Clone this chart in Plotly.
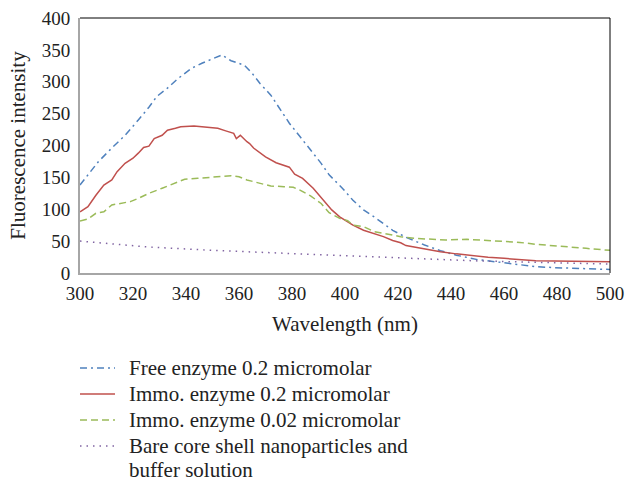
import plotly.graph_objects as go

# ---- data ----
free_wl = [300, 303, 307, 312, 317, 322, 326, 329, 333, 337, 342, 346, 351, 353.5, 357, 362, 365, 368, 372,
           375.5, 379, 383, 387, 391, 394, 399, 403, 407, 411, 414.5, 418, 423, 430, 436, 442, 450, 454,
           460, 466, 472, 479, 485, 491, 500]
free_val = [138, 154, 175, 196, 216, 240, 260, 277, 290, 305, 321, 329, 337, 342, 333, 326, 313, 297, 279,
            258, 235, 214, 193, 172, 154, 133, 114, 99, 88, 78, 67, 56, 44, 35, 28, 21, 19,
            16, 12.5, 10, 8.4, 7.3, 6.3, 5.5]

immo02_wl = [300, 303, 306, 309, 312, 314, 317, 320, 322, 324, 326, 328, 331, 333, 336, 338, 343, 347, 351,
             352, 355, 358, 359, 360.5, 363, 364, 365.5, 368, 370, 374, 379, 381, 384, 388, 392, 395, 398,
             401, 403, 407, 411, 414.5, 418, 421, 423, 430, 436, 442, 448, 454, 460, 466, 472, 479, 485,
             491, 500]
immo02_val = [96, 104, 122, 138, 146, 159, 172, 180, 188, 197, 199, 211, 216, 224, 227, 229.5, 230.5, 228.5,
              227, 227, 223, 219, 211, 216, 206, 203, 196, 189, 182, 173, 166, 155, 148.5, 133, 114.5, 99,
              88, 80, 75, 67, 62, 57, 51, 47.5, 43, 37.6, 33.5, 30, 27, 24.6, 23, 21.5, 19.3, 18.8, 18.3,
              17.8, 17.8]

immo002_wl = [300, 303, 306, 309, 312, 316, 319, 322, 326, 331, 336, 339.5, 344.5, 350, 352, 357, 360, 363,
              368, 372, 377, 380.5, 383, 387, 391, 394, 398, 401, 403, 407, 411, 414.5, 418, 421, 426, 432,
              438, 446, 451, 457, 466, 472, 479, 485, 491, 500]
immo002_val = [81.6, 84.7, 93.6, 96, 106.7, 110, 112, 117, 125, 133, 140.6, 147, 148.5, 150, 151, 152.6, 151,
               146, 140.6, 136.5, 135.4, 134.4, 130, 121, 109, 94.6, 85.7, 82, 75, 72.7, 65, 62, 59.6, 57,
               54.4, 52.8, 51.8, 52.8, 51.8, 50.2, 48, 45, 43, 41.3, 38.7, 35.5]

bare_wl = [300, 325, 350, 375, 400, 425, 450, 475, 500]
bare_val = [50, 41, 35.5, 31, 27, 23, 19, 16.5, 14]

names = ["Free enzyme 0.2 micromolar",
         "Immo. enzyme 0.2 micromolar",
         "Immo. enzyme 0.02 micromolar",
         "Bare core shell nanoparticles and buffer solution"]
legend_lines = [["Free enzyme 0.2 micromolar"],
                ["Immo. enzyme 0.2 micromolar"],
                ["Immo. enzyme 0.02 micromolar"],
                ["Bare core shell nanoparticles and", "buffer solution"]]
colors = ["#4F81BD", "#C0504D", "#9BBB59", "#8064A2"]
dashes = ["7px,4px,2px,4px", "solid", "7px,4px", "1.5px,5px"]

x_ticks = [300, 320, 340, 360, 380, 400, 420, 440, 460, 480, 500]
y_ticks = [0, 50, 100, 150, 200, 250, 300, 350, 400]

FONT = "Liberation Serif"
TXT = "#222222"

W, H = 629, 483
L, R, T, B = 80, 19, 18, 210
PW, PH = W - L - R, H - T - B


def px_to_paper(px, py):
    return (px - L) / PW, (H - B - py) / PH


fig = go.Figure()
series = [(free_wl, free_val), (immo02_wl, immo02_val), (immo002_wl, immo002_val), (bare_wl, bare_val)]
for (xs, ys), nm, c, d in zip(series, names, colors, dashes):
    fig.add_trace(go.Scatter(x=xs, y=ys, mode="lines", name=nm, showlegend=False,
                             line=dict(color=c, width=1.5, dash=d)))

# legend drawn below the plot (layout items)
shapes = [
    dict(type="line", xref="paper", yref="paper", x0=0, x1=1, y0=1, y1=1,
         line=dict(color="black", width=1)),
    dict(type="line", xref="paper", yref="paper", x0=1, x1=1, y0=0, y1=1,
         line=dict(color="black", width=1)),
]
annotations = []
row_y = [368, 394, 420, 446]
for i, (lines, c, d) in enumerate(zip(legend_lines, colors, dashes)):
    x0, yy = px_to_paper(80, row_y[i])
    x1, _ = px_to_paper(115, row_y[i])
    shapes.append(dict(type="line", xref="paper", yref="paper", x0=x0, x1=x1, y0=yy, y1=yy,
                       line=dict(color=c, width=1.5, dash=d)))
    tx, ty = px_to_paper(128, row_y[i] - 13)
    annotations.append(dict(text=lines[0], xref="paper", yref="paper", x=tx, y=ty,
                            xanchor="left", yanchor="top", showarrow=False, align="left",
                            borderpad=0, font=dict(family=FONT, size=21, color=TXT)))
    if len(lines) > 1:
        _, by = px_to_paper(128, H)
        annotations.append(dict(text=lines[1], xref="paper", yref="paper", x=tx, y=by,
                                xanchor="left", yanchor="bottom", showarrow=False, align="left",
                                borderpad=0, font=dict(family=FONT, size=21, color=TXT)))

fig.update_layout(
    width=W, height=H,
    margin=dict(l=L, r=R, t=T, b=B),
    paper_bgcolor="white", plot_bgcolor="white",
    font=dict(family=FONT, size=19, color=TXT),
    showlegend=False,
    xaxis=dict(range=[300, 500], tickvals=x_ticks, showgrid=False, zeroline=False,
               showline=True, linecolor="#A6A6A6", linewidth=2, ticks="", automargin=False,
               ticklabelstandoff=2,
               title=dict(text="Wavelength (nm)", font=dict(size=21), standoff=14)),
    yaxis=dict(range=[0, 400], tickvals=y_ticks, showgrid=False, zeroline=False,
               showline=True, linecolor="#A6A6A6", linewidth=2, ticks="", automargin=False,
               ticklabelstandoff=4,
               title=dict(text="Fluorescence intensity", font=dict(size=21), standoff=10)),
    shapes=shapes,
    annotations=annotations,
)

fig.write_html("out.html", config={"displayModeBar": False},
               post_script="document.body.style.margin='0';document.body.style.overflow='hidden';")
